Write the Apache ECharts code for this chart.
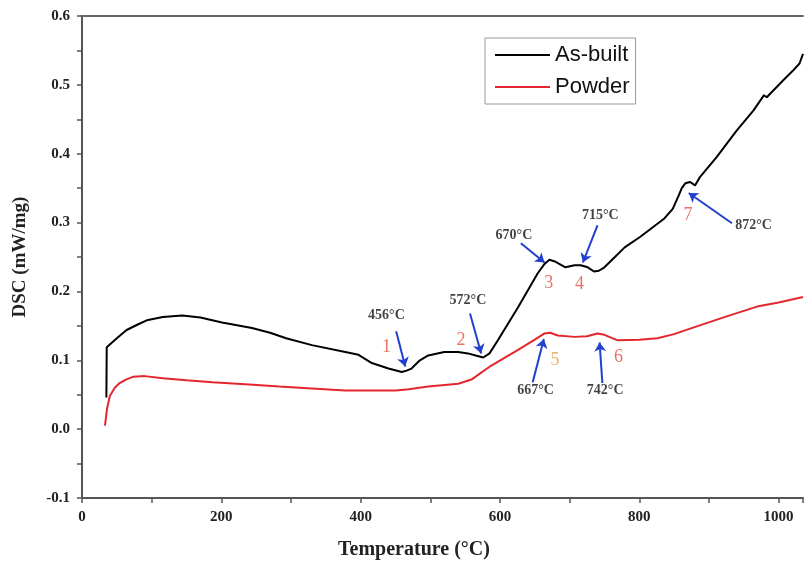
<!DOCTYPE html>
<html>
<head>
<meta charset="utf-8">
<script src="https://cdn.jsdelivr.net/npm/echarts@6/dist/echarts.min.js"></script>
<style>
  html, body { margin:0; padding:0; background:#fff; }
  #chartDiv { width:806px; height:578px; }
</style>
</head>
<body>
<div id="chartDiv"></div>
<script>
// As-built DSC curve: [temperature, DSC]
var asBuilt = [[35,0.046],[35.5,0.119],[50,0.132],[64,0.144],[80,0.152],[93,0.158],[116,0.163],[144,0.165],
    [170,0.162],[201,0.155],[244,0.147],[270,0.140],[293,0.132],[330,0.122],[378,0.112],[397,0.108],[416,0.096],
    [440,0.088],[459,0.083],[466,0.085],[473,0.088],[485,0.100],[497,0.107],[520,0.112],[540,0.112],[554,0.110],
    [565,0.107],[576,0.104],[585,0.110],[597,0.129],[626,0.177],[654,0.226],[664,0.240],[671,0.246],[680,0.243],
    [694,0.235],[707,0.238],[716,0.238],[726,0.235],[735,0.229],[742,0.230],[750,0.235],[765,0.250],[779,0.264],
    [801,0.279],[836,0.306],[848,0.320],[856,0.338],[861,0.350],[866,0.357],[873,0.359],[880,0.354],[887,0.366],
    [911,0.395],[940,0.434],[964,0.463],[979,0.485],[983,0.482],[1007,0.507],[1020,0.520],[1030,0.531],[1035,0.545]];
// Powder DSC curve
var powder = [[33,0.005],[36,0.030],[40,0.048],[47,0.060],[54,0.067],[63,0.072],[73,0.076],[90,0.077],[116,0.074],
    [150,0.071],[187,0.068],[240,0.065],[283,0.062],[330,0.059],[378,0.056],[420,0.056],[450,0.056],[469,0.058],
    [497,0.062],[540,0.066],[559,0.072],[587,0.092],[626,0.115],[650,0.130],[664,0.139],[672,0.140],[683,0.136],
    [707,0.134],[725,0.135],[740,0.139],[750,0.137],[769,0.129],[800,0.130],[826,0.132],[850,0.138],[873,0.146],
    [920,0.162],[969,0.178],[1000,0.184],[1035,0.192]];

// peak temperature labels
var tempNames = ['456°C','572°C','670°C','715°C','872°C','667°C','742°C'];
var tempPos = [[437,0.165],[554,0.187],[620,0.282],[744,0.311],[964,0.296],[651,0.057],[751,0.057]];
// peak numbers
var peakNames = ['1','2','3','4','5','6','7'];
var peakPos = [[437,0.119],[544,0.129],[670,0.212],[714,0.210],[679,0.100],[770,0.104],[870,0.311]];
var peakColors = ['#e0503f','#e0503f','#e0503f','#e0503f','#e0a048','#e0503f','#e0503f'];
// arrows [from, to]
var arrows = [[[451,0.142],[464,0.091]],[[557,0.168],[573,0.110]],[[630,0.270],[664,0.242]],
    [[740,0.296],[719,0.242]],[[647,0.068],[663,0.131]],[[747,0.067],[743,0.126]],[[933,0.299],[871,0.343]]];

var serif = '"Liberation Serif", "Times New Roman", serif';
var myChart = echarts.init(document.getElementById('chartDiv'));

var option = {
    animation: false,
    grid: { left: 82, right: 0, top: 16, bottom: 80 },
    legend: {
        data: ['As-built', 'Powder'],
        orient: 'vertical',
        left: 485, top: 38,
        icon: 'rect',
        itemWidth: 55, itemHeight: 2, itemGap: 6,
        padding: [4, 6, 4, 10],
        borderColor: '#999', borderWidth: 1,
        textStyle: { fontFamily: '"Liberation Sans", Arial, sans-serif', fontSize: 22, color: '#111', lineHeight: 26 }
    },
    xAxis: [{
        type: 'value', min: 0, max: 1035, interval: 100,
        axisLine: { onZero: false, lineStyle: { color: '#555', width: 2 } },
        axisTick: { length: 5, lineStyle: { color: '#555', width: 1.5 } },
        axisLabel: {
            margin: 12, fontFamily: serif, fontWeight: 'bold', fontSize: 15, color: '#222',
            formatter: function (v) { return v % 200 === 0 ? v : ''; }
        },
        splitLine: { show: false }
    }, {
        type: 'value', position: 'top', min: 0, max: 1035,
        axisLine: { show: true, onZero: false, lineStyle: { color: '#666', width: 2 } },
        axisTick: { show: false }, axisLabel: { show: false }, splitLine: { show: false }
    }],
    yAxis: {
        type: 'value', min: -0.1, max: 0.6, interval: 0.05,
        name: 'DSC (mW/mg)', nameLocation: 'middle', nameGap: 52,
        nameTextStyle: { fontFamily: serif, fontWeight: 'bold', fontSize: 19, color: '#222' },
        axisLine: { show: true, onZero: false, lineStyle: { color: '#555', width: 2 } },
        axisTick: { show: true, length: 5, lineStyle: { color: '#555', width: 1.5 } },
        axisLabel: {
            margin: 12, fontFamily: serif, fontWeight: 'bold', fontSize: 15, color: '#222',
            formatter: function (v) {
                var k = Math.round(v * 100);
                return k % 10 === 0 ? (k / 100).toFixed(1) : '';
            }
        },
        splitLine: { show: false }
    },
    graphic: [{
        type: 'text', x: 414, y: 550,
        style: { text: 'Temperature (°C)', textAlign: 'center', textVerticalAlign: 'middle',
                 font: 'bold 20px ' + serif, fill: '#222' }
    }],
    series: [
        {
            name: 'As-built', type: 'line', data: asBuilt, symbol: 'none',
            lineStyle: { color: '#000', width: 2 }, itemStyle: { color: '#000' },
            markLine: {
                silent: true, symbol: ['none', 'arrow'], symbolSize: 9,
                label: { show: false },
                lineStyle: { color: '#2240d0', width: 2, type: 'solid' },
                data: arrows.map(function (a) { return [{ coord: a[0] }, { coord: a[1] }]; })
            }
        },
        {
            name: 'Powder', type: 'line', data: powder, symbol: 'none',
            lineStyle: { color: '#e3262e', width: 2 }, itemStyle: { color: '#e3262e' }
        },
        {
            name: 'temps', type: 'scatter', symbolSize: 0, silent: true,
            data: tempPos.map(function (p, i) { return { name: tempNames[i], value: p }; }),
            label: { show: true, position: 'inside', formatter: '{b}',
                     fontFamily: serif, fontWeight: 'bold', fontSize: 14, color: '#111' }
        },
        {
            name: 'peaks', type: 'scatter', symbolSize: 0, silent: true,
            data: peakPos.map(function (p, i) {
                return { name: peakNames[i], value: p, label: { color: peakColors[i] } };
            }),
            label: { show: true, position: 'inside', formatter: '{b}',
                     fontFamily: serif, fontSize: 18 }
        }
    ]
};

myChart.setOption(option);
</script>
</body>
</html>
